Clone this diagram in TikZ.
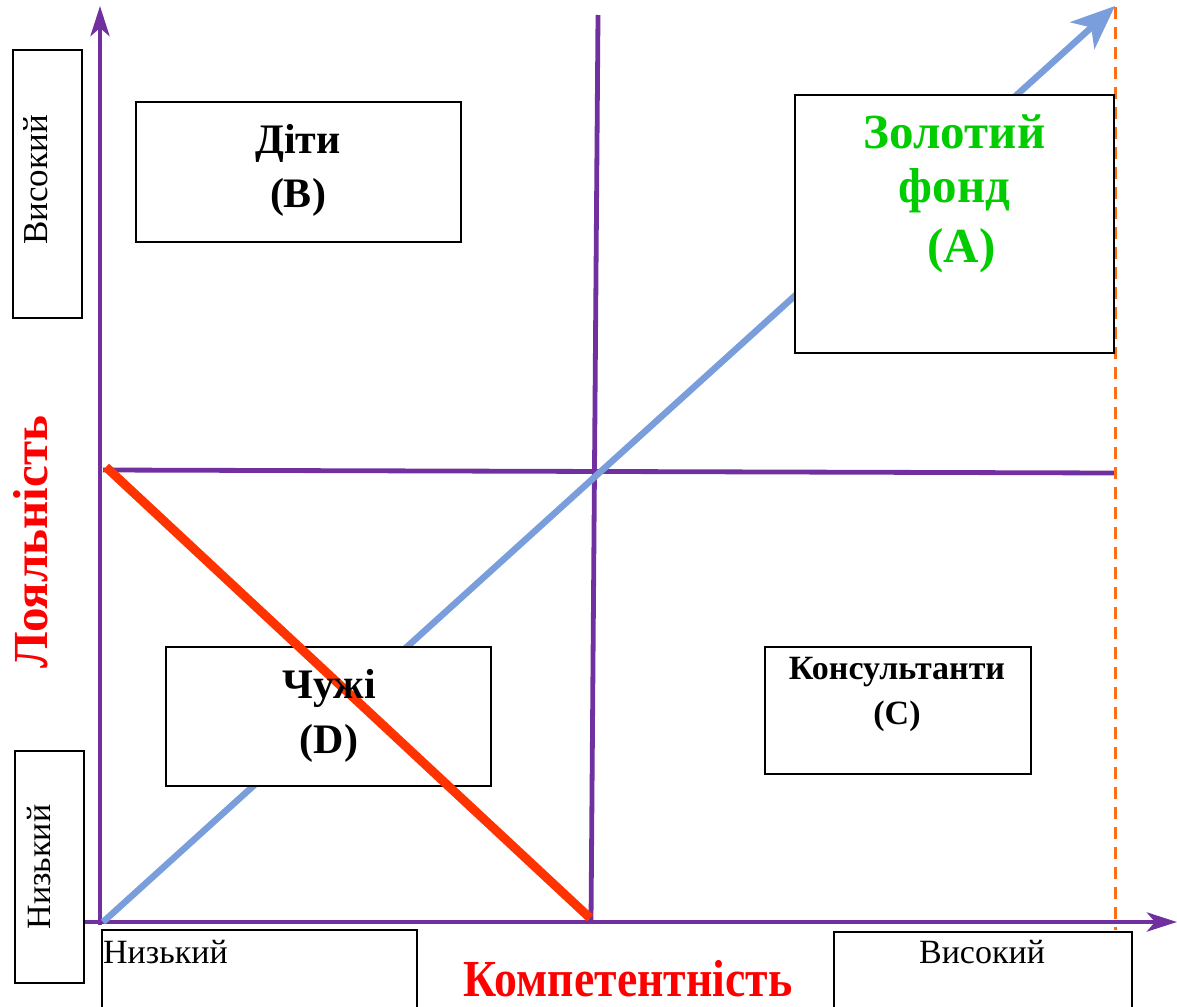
\documentclass[tikz,border=0pt]{standalone}
\usepackage{fontspec}
\setmainfont{Liberation Serif}
\newfontfamily\condserif[FakeStretch=0.88]{Liberation Serif}
\usetikzlibrary{arrows.meta}
\definecolor{axpurple}{RGB}{112,48,160}
\definecolor{lineblue}{RGB}{122,158,220}
\definecolor{linered}{RGB}{255,51,0}
\definecolor{dashorange}{RGB}{255,110,20}
\definecolor{txtgreen}{RGB}{0,204,0}
\definecolor{txtred}{RGB}{255,0,0}
\begin{document}
\begin{tikzpicture}[x=1pt,y=-1pt,
  box/.style={draw=black, line width=2.6pt, fill=white, inner sep=0pt},
  lbl/.style={inner sep=0pt, align=center},
  axis/.style={axpurple, line width=4.8pt},
  axtip/.style={-{Stealth[length=30pt,width=19pt,inset=8pt]}},
  diag/.style={lineblue, line width=6.5pt, -{Stealth[length=44pt,width=36pt,inset=12pt]}},
  cross/.style={linered, line width=9pt},
  guide/.style={dashorange, line width=3pt, dash pattern=on 12pt off 8pt}
]
\useasboundingbox (0,0) rectangle (1177,1006);
\clip (0,0) rectangle (1177,1006);

% coordinates
\coordinate (yb) at (100,925);
\coordinate (yt) at (100,6);
\coordinate (xl) at (85,922);
\coordinate (xr) at (1177,922);
\coordinate (vt) at (598,15);
\coordinate (vb) at (591,922);
\coordinate (hl) at (103,470);
\coordinate (hr) at (1115,473);
\coordinate (bs) at (103,922);
\coordinate (bt) at (1115,6);
\coordinate (gt) at (1115,7);
\coordinate (gb) at (1115,930);
\coordinate (rs) at (106,467);
\coordinate (re) at (590,918);

% axes and grid
\draw[axis, axtip] (yb) -- (yt);
\draw[axis, axtip] (xl) -- (xr);
\draw[axis] (vt) -- (vb);
\draw[axis] (hl) -- (hr);
\draw[guide] (gt) -- (gb);
\draw[diag] (bs) -- (bt);

% boxes
\node[box, minimum width=69pt, minimum height=268pt] (hiL) at (47.5,184) {};
\node[box, minimum width=69pt, minimum height=232pt] (loL) at (49.5,867) {};
\node[box, minimum width=325pt, minimum height=140pt] (bB) at (298.5,172) {};
\node[box, minimum width=319pt, minimum height=258pt] (bA) at (954.5,224) {};
\node[box, minimum width=325pt, minimum height=139pt] (bD) at (328.5,716.5) {};
\node[box, minimum width=266pt, minimum height=127pt] (bC) at (898,710.5) {};
\node[box, minimum width=315pt, minimum height=90pt] (loB) at (259.5,975) {};
\node[box, minimum width=298pt, minimum height=90pt] (hiB) at (983,977) {};

% red cross line
\draw[cross] (rs) -- (re);

% texts
\node[lbl, anchor=north, font=\fontsize{42}{54}\selectfont\bfseries] (tB) at (298,124) {Діти\\(B)};
\node[lbl, anchor=north, text=txtgreen, font=\fontsize{49}{54}\selectfont\bfseries] (tA) at (954.5,115) {Золотий\\фонд\\[6pt]\hspace*{14pt}(A)};
\node[lbl, anchor=north, font=\fontsize{42}{55}\selectfont\bfseries] (tD) at (329,669) {Чужі\\(D)};
\node[lbl, anchor=north, font=\fontsize{34}{45}\selectfont\bfseries] (tC) at (897,657.5) {Консультанти\\(C)};

\node[lbl, rotate=90, anchor=base, font=\fontsize{35}{40}\selectfont] (thiL) at (47,180) {Високий};
\node[lbl, rotate=90, anchor=base, font=\fontsize{34}{40}\selectfont] (tloL) at (50,867) {Низький};
\node[lbl, rotate=90, anchor=base, text=txtred, font=\fontsize{49}{56}\selectfont\bfseries] (tLoy) at (47,542) {Лояльність};

\node[lbl, anchor=base west, font=\fontsize{34}{40}\selectfont] (tloB) at (103,963) {Низький};
\node[lbl, anchor=base, font=\fontsize{34}{40}\selectfont] (thiB) at (982,963) {Високий};
\node[lbl, anchor=base, text=txtred, font=\condserif\fontsize{52}{60}\selectfont\bfseries] (tKom) at (628,996) {Компетентність};
\end{tikzpicture}
\end{document}
